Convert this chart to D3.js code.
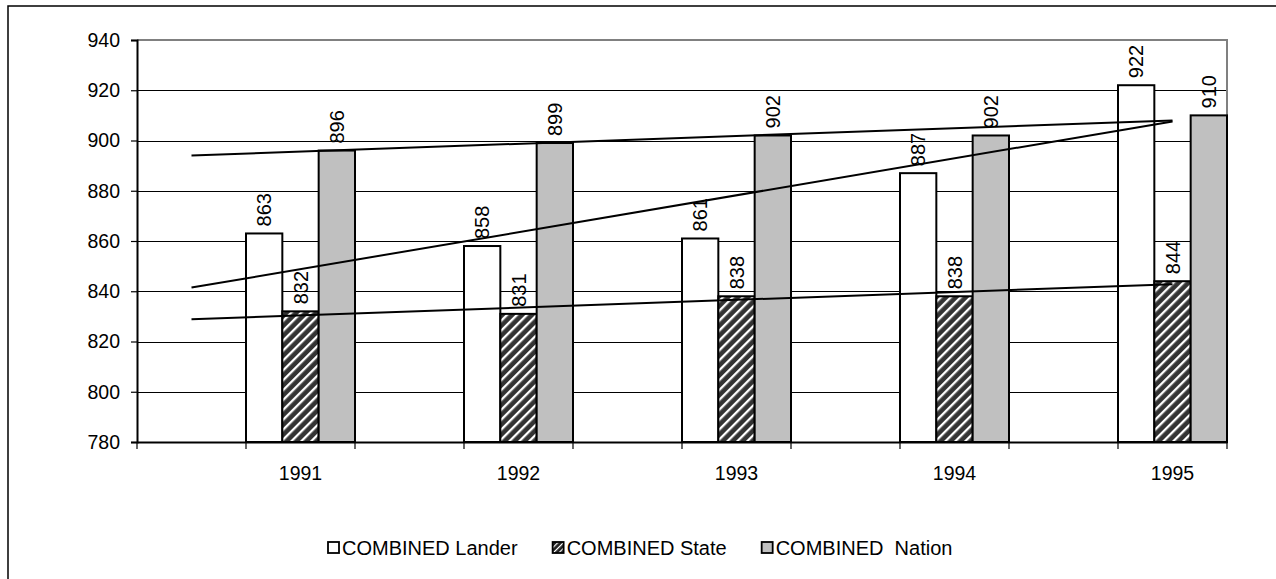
<!DOCTYPE html>
<html>
<head>
<meta charset="utf-8">
<script src="https://cdn.jsdelivr.net/npm/d3@7"></script>
<style>
  html, body { margin: 0; padding: 0; background: #fff; }
  svg { display: block; font-family: "Liberation Sans", Arial, sans-serif; }
</style>
</head>
<body>
<svg id="chart" width="1276" height="579"></svg>
<script>
const years = ["1991", "1992", "1993", "1994", "1995"];
const lander = [863, 858, 861, 887, 922];
const state = [832, 831, 838, 838, 844];
const nation = [896, 899, 902, 902, 910];
const seriesNames = ["COMBINED Lander", "COMBINED State", "COMBINED  Nation"];
const yTicks = [780, 800, 820, 840, 860, 880, 900, 920, 940];

const series = [
  { name: seriesNames[0], values: lander, fill: "#ffffff" },
  { name: seriesNames[1], values: state, fill: "url(#hatch)" },
  { name: seriesNames[2], values: nation, fill: "#c0c0c0" }
];

const svg = d3.select("#chart");
const plot = { left: 137, right: 1227, top: 40, bottom: 442 };
const FONT = "Liberation Sans, Arial, sans-serif";

// hatch pattern
const defs = svg.append("defs");
const pat = defs.append("pattern")
  .attr("id", "hatch").attr("patternUnits", "userSpaceOnUse")
  .attr("width", 7).attr("height", 7)
  .attr("patternTransform", "rotate(45)");
pat.append("rect").attr("width", 7).attr("height", 7).attr("fill", "#333");
pat.append("rect").attr("x", 0).attr("width", 2.3).attr("height", 7).attr("fill", "#fff");
const patS = defs.append("pattern")
  .attr("id", "hatchSmall").attr("patternUnits", "userSpaceOnUse")
  .attr("width", 4).attr("height", 4)
  .attr("patternTransform", "rotate(45)");
patS.append("rect").attr("width", 4).attr("height", 4).attr("fill", "#222");
patS.append("rect").attr("width", 1.2).attr("height", 4).attr("fill", "#fff");

// outer border (right and bottom sides fall at the picture edge)
svg.append("rect").attr("x", 8).attr("y", 6).attr("width", 1270).attr("height", 576)
  .attr("fill", "none").attr("stroke", "#000").attr("stroke-width", 1.5);

// scales: 10 category slots, each year occupies every second slot
const slots = d3.range(years.length * 2);
const x = d3.scaleBand().domain(slots).range([plot.left, plot.right]).padding(0);
const slotOfYear = i => 2 * i + 1;
const y = d3.scaleLinear().domain([780, 940]).range([plot.bottom, plot.top]);
const inner = d3.scaleBand().domain(seriesNames).range([0, x.bandwidth()]).padding(0);

// gridlines
svg.append("g").selectAll("line").data(yTicks.filter(t => t > 780 && t < 940)).join("line")
  .attr("x1", plot.left).attr("x2", plot.right)
  .attr("y1", d => Math.round(y(d)) + 0.5).attr("y2", d => Math.round(y(d)) + 0.5)
  .attr("stroke", "#000").attr("stroke-width", 1);

// plot area border top/right (gray)
svg.append("path")
  .attr("d", `M${plot.left},${y(940)}H${plot.right}V${plot.bottom}`)
  .attr("fill", "none").attr("stroke", "#808080").attr("stroke-width", 2);

// bars
const groups = svg.append("g").selectAll("g").data(years).join("g")
  .attr("transform", (d, i) => `translate(${x(slotOfYear(i))},0)`);
series.forEach(s => {
  groups.append("rect")
    .attr("x", inner(s.name))
    .attr("width", inner.bandwidth())
    .attr("y", (d, i) => y(s.values[i]))
    .attr("height", (d, i) => y(780) - y(s.values[i]))
    .attr("fill", s.fill)
    .attr("stroke", "#000").attr("stroke-width", 2);
});

// data labels
series.forEach(s => {
  groups.append("text")
    .attr("transform", (d, i) => `translate(${inner(s.name) + inner.bandwidth() / 2},${y(s.values[i]) - 7}) rotate(-90)`)
    .attr("dy", "0.35em")
    .attr("font-size", 20)
    .attr("fill", "#000")
    .text((d, i) => s.values[i]);
});

// y axis
const yAxis = d3.axisLeft(y).tickValues(yTicks).tickSize(6).tickPadding(11).tickFormat(d3.format("d"));
const ya = svg.append("g").attr("transform", `translate(${plot.left},0)`).call(yAxis);
ya.select(".domain").attr("stroke", "#000").attr("stroke-width", 2);
ya.selectAll(".tick line").attr("stroke", "#000").attr("stroke-width", 1.2);
ya.selectAll("text").attr("font-size", 19.5).attr("font-family", FONT).attr("fill", "#000");

// x axis
const xAxis = d3.axisBottom(x).tickSize(0).tickPadding(24)
  .tickFormat(k => (k % 2 === 1 ? years[(k - 1) / 2] : ""));
const xa = svg.append("g").attr("transform", `translate(0,${plot.bottom})`).call(xAxis);
xa.select(".domain").attr("stroke", "#000").attr("stroke-width", 2);
xa.selectAll("text").attr("font-size", 19.5).attr("font-family", FONT).attr("fill", "#000");
// category boundary tick marks
xa.append("g").selectAll("line").data(d3.range(slots.length + 1)).join("line")
  .attr("x1", k => plot.left + k * x.step()).attr("x2", k => plot.left + k * x.step())
  .attr("y1", 0).attr("y2", 7).attr("stroke", "#000").attr("stroke-width", 1.2);

// linear trendlines (least squares over the slot positions)
function trend(values) {
  const xs = values.map((v, i) => slotOfYear(i));
  const mx = d3.mean(xs), my = d3.mean(values);
  const b = d3.sum(xs, (xv, i) => (xv - mx) * (values[i] - my)) / d3.sum(xs, xv => (xv - mx) ** 2);
  const a = my - b * mx;
  const s0 = slots[0], s1 = slots[slots.length - 1];
  return [[s0, a + b * s0], [s1, a + b * s1]];
}
const line = d3.line().x(d => x(d[0]) + x.bandwidth() / 2).y(d => y(d[1]));
svg.append("g").selectAll("path").data(series.map(s => trend(s.values))).join("path")
  .attr("d", line).attr("fill", "none").attr("stroke", "#000").attr("stroke-width", 2);

// legend
const legendFills = ["#ffffff", "url(#hatchSmall)", "#c0c0c0"];
const legend = svg.append("g").attr("transform", "translate(0,548)");
let lx = 327;
series.forEach((s, i) => {
  const g = legend.append("g").attr("transform", `translate(${lx},0)`);
  g.append("rect").attr("x", 1).attr("y", -6).attr("width", 11).attr("height", 11)
    .attr("fill", legendFills[i]).attr("stroke", "#000").attr("stroke-width", 1.8);
  const t = g.append("text").attr("x", 15).attr("dy", "0.35em").attr("font-size", 20)
    .attr("font-family", FONT)
    .attr("fill", "#000").style("white-space", "pre").text(s.name);
  lx += 15 + t.node().getComputedTextLength() + 34;
});
</script>
</body>
</html>
